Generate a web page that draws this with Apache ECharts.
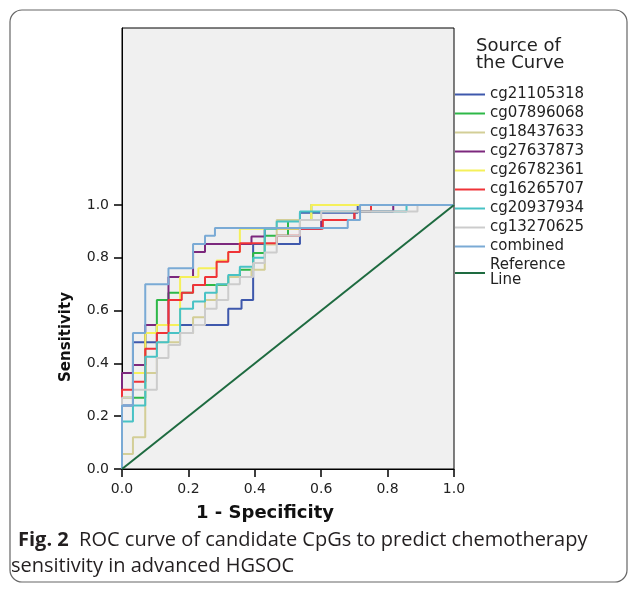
<!DOCTYPE html>
<html>
<head>
<meta charset="utf-8">
<script src="https://cdn.jsdelivr.net/npm/echarts@6/dist/echarts.min.js"></script>
<style>
html,body{margin:0;padding:0;background:#fff;}
#chart{width:629px;height:590px;}
</style>
</head>
<body>
<div id="chart"></div>
<script>
// ---- data: ROC step corners [1 - specificity, sensitivity] ----
const seriesNames = ['cg21105318','cg07896068','cg18437633','cg27637873','cg26782361','cg16265707','cg20937934','cg13270625','combined','Reference Line'];
const seriesColors = ['#3E58AC','#2EB848','#D3CE97','#7C287D','#F5F05A','#EF3338','#48C2C5','#CCCCCC','#7AAAD5','#1E6B40'];

const cg21105318 = [[0,0],[0,0.24],[0.033,0.24],[0.033,0.48],[0.105,0.48],[0.105,0.545],[0.32,0.545],[0.32,0.607],[0.36,0.607],[0.36,0.64],[0.395,0.64],[0.395,0.852],[0.536,0.852],[0.536,0.97],[0.71,0.97],[0.71,1],[1,1]];
const cg07896068 = [[0,0],[0,0.27],[0.07,0.27],[0.07,0.515],[0.105,0.515],[0.105,0.64],[0.14,0.64],[0.14,0.667],[0.214,0.667],[0.214,0.697],[0.32,0.697],[0.32,0.727],[0.355,0.727],[0.355,0.755],[0.395,0.755],[0.395,0.818],[0.43,0.818],[0.43,0.883],[0.50,0.883],[0.50,0.943],[0.57,0.943],[0.57,1],[1,1]];
const cg18437633 = [[0,0],[0,0.057],[0.033,0.057],[0.033,0.12],[0.07,0.12],[0.07,0.364],[0.105,0.364],[0.105,0.48],[0.175,0.48],[0.175,0.515],[0.214,0.515],[0.214,0.575],[0.25,0.575],[0.25,0.64],[0.285,0.64],[0.285,0.70],[0.32,0.70],[0.32,0.727],[0.39,0.727],[0.39,0.755],[0.43,0.755],[0.43,0.85],[0.466,0.85],[0.466,0.943],[0.57,0.943],[0.57,1],[1,1]];
const cg27637873 = [[0,0],[0,0.364],[0.033,0.364],[0.033,0.394],[0.07,0.394],[0.07,0.545],[0.14,0.545],[0.14,0.727],[0.214,0.727],[0.214,0.822],[0.25,0.822],[0.25,0.852],[0.39,0.852],[0.39,0.88],[0.43,0.88],[0.43,0.91],[0.60,0.91],[0.60,0.943],[0.70,0.943],[0.70,0.975],[0.817,0.975],[0.817,1],[1,1]];
const cg26782361 = [[0,0],[0,0.27],[0.033,0.27],[0.033,0.364],[0.07,0.364],[0.07,0.515],[0.105,0.515],[0.105,0.545],[0.175,0.545],[0.175,0.727],[0.23,0.727],[0.23,0.76],[0.285,0.76],[0.285,0.79],[0.32,0.79],[0.32,0.822],[0.355,0.822],[0.355,0.91],[0.536,0.91],[0.536,0.943],[0.57,0.943],[0.57,1],[1,1]];
const cg16265707 = [[0,0],[0,0.30],[0.033,0.30],[0.033,0.33],[0.07,0.33],[0.07,0.455],[0.105,0.455],[0.105,0.515],[0.14,0.515],[0.14,0.64],[0.18,0.64],[0.18,0.667],[0.214,0.667],[0.214,0.697],[0.25,0.697],[0.25,0.727],[0.285,0.727],[0.285,0.785],[0.32,0.785],[0.32,0.822],[0.355,0.822],[0.355,0.855],[0.466,0.855],[0.466,0.883],[0.536,0.883],[0.536,0.91],[0.605,0.91],[0.605,0.943],[0.70,0.943],[0.70,0.975],[0.75,0.975],[0.75,1],[1,1]];
const cg20937934 = [[0,0],[0,0.18],[0.033,0.18],[0.033,0.24],[0.07,0.24],[0.07,0.425],[0.105,0.425],[0.105,0.48],[0.14,0.48],[0.14,0.515],[0.175,0.515],[0.175,0.607],[0.214,0.607],[0.214,0.634],[0.25,0.634],[0.25,0.667],[0.285,0.667],[0.285,0.70],[0.32,0.70],[0.32,0.735],[0.355,0.735],[0.355,0.766],[0.395,0.766],[0.395,0.80],[0.43,0.80],[0.43,0.91],[0.466,0.91],[0.466,0.937],[0.536,0.937],[0.536,0.975],[0.857,0.975],[0.857,1],[1,1]];
const cg13270625 = [[0,0],[0,0.27],[0.033,0.27],[0.033,0.30],[0.105,0.30],[0.105,0.42],[0.14,0.42],[0.14,0.47],[0.175,0.47],[0.175,0.515],[0.214,0.515],[0.214,0.545],[0.25,0.545],[0.25,0.607],[0.285,0.607],[0.285,0.64],[0.32,0.64],[0.32,0.70],[0.355,0.70],[0.355,0.727],[0.395,0.727],[0.395,0.78],[0.43,0.78],[0.43,0.82],[0.466,0.82],[0.466,0.883],[0.536,0.883],[0.536,0.943],[0.60,0.943],[0.60,0.975],[0.89,0.975],[0.89,1],[1,1]];
const combined = [[0,0],[0,0.24],[0.033,0.24],[0.033,0.515],[0.07,0.515],[0.07,0.70],[0.14,0.70],[0.14,0.76],[0.214,0.76],[0.214,0.852],[0.25,0.852],[0.25,0.883],[0.28,0.883],[0.28,0.913],[0.68,0.913],[0.68,0.943],[0.717,0.943],[0.717,1],[1,1]];
const referenceLine = [[0,0],[1,1]];

const xTickValues = [0,0.2,0.4,0.6,0.8,1.0];
const yTickValues = [0,0.2,0.4,0.6,0.8,1.0];

const seriesData = [cg21105318,cg07896068,cg18437633,cg27637873,cg26782361,cg16265707,cg20937934,cg13270625,combined,referenceLine];

// ---- chart ----
const chart = echarts.init(document.getElementById('chart'), null, {renderer:'canvas'});
const FONT = 'DejaVu Sans';

const series = seriesData.map((d, i) => ({
  name: seriesNames[i],
  type: 'line',
  data: d,
  symbol: 'none',
  showSymbol: false,
  animation: false,
  lineStyle: {color: seriesColors[i], width: 2},
  itemStyle: {color: seriesColors[i]},
  z: i === seriesNames.length - 1 ? 10 : 2 + i * 0.1
}));

const option = {
  backgroundColor: '#ffffff',
  animation: false,
  grid: {left: 122, top: 28, width: 332, height: 441, show: true, backgroundColor: '#f0f0f0', borderColor: '#000', borderWidth: 1},
  xAxis: {
    type: 'value', min: 0, max: 1, interval: 0.2,
    axisLine: {show: true, onZero: false, lineStyle: {color: '#000', width: 1}},
    axisTick: {show: true, inside: false, length: 8, customValues: xTickValues, lineStyle: {color: '#000', width: 1.5}},
    splitLine: {show: false},
    axisLabel: {margin: 13, color: '#222', fontFamily: FONT, fontSize: 14, customValues: xTickValues, formatter: v => v.toFixed(1)}
  },
  yAxis: {
    type: 'value', min: 0, max: 1.67, interval: 0.2,
    axisLine: {show: true, onZero: false, lineStyle: {color: '#000', width: 1}},
    axisTick: {show: true, inside: false, length: 8, customValues: yTickValues, lineStyle: {color: '#000', width: 1.5}},
    splitLine: {show: false},
    axisLabel: {margin: 13, color: '#222', fontFamily: FONT, fontSize: 14, customValues: yTickValues, formatter: v => v.toFixed(1)}
  },
  legend: {
    orient: 'vertical', left: 455, top: 87, padding: 0,
    itemWidth: 30, itemHeight: 2, itemGap: 4,
    icon: 'rect',
    data: seriesNames,
    selectedMode: false,
    textStyle: {fontFamily: FONT, fontSize: 15, color: '#222', lineHeight: 15},
    formatter: n => n === 'Reference Line' ? 'Reference\nLine' : n
  },
  series: series,
  graphic: [
    {type: 'rect', silent: true, z: -10, shape: {x: 10, y: 10, width: 617, height: 572, r: 12}, style: {fill: 'none', stroke: '#666', lineWidth: 1.2}},
    {type: 'text', silent: true, style: {x: 476, y: 38, text: 'Source of\nthe Curve', fontFamily: FONT, fontSize: 18, lineHeight: 17, fill: '#222'}},
    {type: 'text', silent: true, style: {x: 265, y: 513, text: '1 - Specificity', fontFamily: FONT, fontWeight: 'bold', fontSize: 18, fill: '#111', align: 'center', verticalAlign: 'middle'}},
    {type: 'text', silent: true, x: 66, y: 337, rotation: Math.PI / 2, style: {x: 0, y: 0, text: 'Sensitivity', fontFamily: FONT, fontWeight: 'bold', fontSize: 15, fill: '#111', align: 'center', verticalAlign: 'middle'}},
    {type: 'text', silent: true, style: {x: 18, y: 540, verticalAlign: 'middle', text: '{b|Fig. 2}  ROC curve of candidate CpGs to predict chemotherapy', fontFamily: 'Open Sans', fontSize: 20, fill: '#231f20', rich: {b: {fontFamily: 'Open Sans', fontWeight: 'bold', fontSize: 20, fill: '#231f20'}}}},
    {type: 'text', silent: true, style: {x: 11, y: 566, verticalAlign: 'middle', text: 'sensitivity in advanced HGSOC', fontFamily: 'Open Sans', fontSize: 20, fill: '#231f20'}}
  ]
};
chart.setOption(option);
</script>
</body>
</html>
